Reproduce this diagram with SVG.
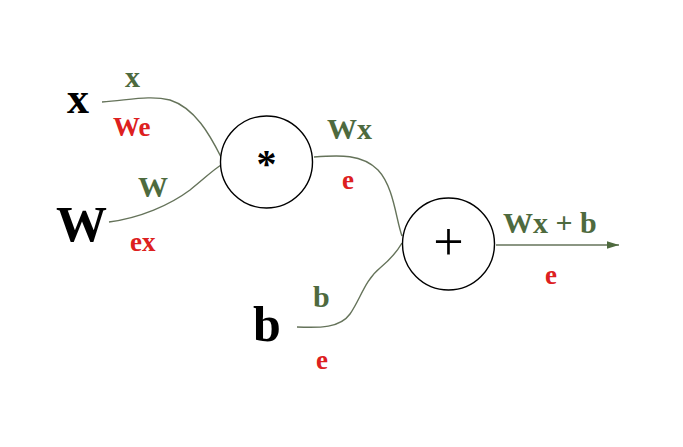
<svg xmlns="http://www.w3.org/2000/svg" width="683" height="447" viewBox="0 0 683 447">
<style>
  text { font-family: "Liberation Serif", "Times New Roman", serif; font-weight: bold; }
  .big { fill: #000; }
  .g { fill: #4e6a3e; font-size: 30px; }
  .r { fill: #dd2020; font-size: 27px; }
  .wire { fill: none; stroke: #65735a; stroke-width: 1.4; }
  .node { fill: #fff; stroke: #000; stroke-width: 1.4; }
</style>
<defs>
  <marker id="arr" markerWidth="13" markerHeight="9" refX="12.5" refY="4.5" orient="auto" markerUnits="userSpaceOnUse">
    <polygon points="0,0.5 12.5,4.5 0,8.5" fill="#4e6a3e"/>
  </marker>
</defs>
<rect width="683" height="447" fill="#fff"/>
<g id="connectors">
  <path class="wire" d="M102,102 C130,100 150,95 170,100 C195,108 210,135 221,157"/>
  <path class="wire" d="M109,222 C140,218 170,205 190,190 C205,178 213,170 221,165"/>
  <path class="wire" d="M314,157 C340,155 362,154 378,170 C394,187 396,220 402,236"/>
  <path class="wire" d="M297,327 C320,328 340,328 350,314 C360,300 365,280 380,268 C392,258 398,250 402,243"/>
  <path class="wire" d="M496,245 H619" marker-end="url(#arr)"/>
</g>
<g id="input-x">
  <text class="big" x="67" y="113" font-size="44">x</text>
  <text class="g" x="125" y="87" font-size="29">x</text>
  <text class="r" x="113" y="136" font-size="28">We</text>
</g>
<g id="input-W">
  <text class="big" x="56" y="241" font-size="51">W</text>
  <text class="g" x="138" y="197">W</text>
  <text class="r" x="130" y="251" font-size="29">ex</text>
</g>
<g id="input-b">
  <text class="big" x="253" y="341" font-size="50">b</text>
  <text class="g" x="313" y="307" font-size="29">b</text>
  <text class="r" x="316" y="369">e</text>
</g>
<g id="mul">
  <circle class="node" cx="266.5" cy="162" r="46"/>
  <text x="266.5" y="177" font-size="40" text-anchor="middle" fill="#000">*</text>
  <text class="g" x="327" y="139">Wx</text>
  <text class="r" x="342" y="189">e</text>
</g>
<g id="add">
  <circle class="node" cx="448.5" cy="244" r="46"/>
  <text x="448.5" y="260" font-size="54" text-anchor="middle" fill="#000" style="font-weight:normal">+</text>
  <text class="g" x="503" y="233">Wx + b</text>
  <text class="r" x="545" y="284">e</text>
</g>
</svg>
